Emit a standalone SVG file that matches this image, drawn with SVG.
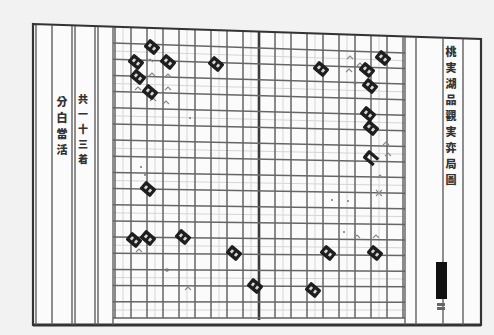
<svg xmlns="http://www.w3.org/2000/svg" xmlns:xlink="http://www.w3.org/1999/xlink" width="494" height="335" viewBox="0 0 494 335">
<style>
.frame{stroke:#333;fill:none;stroke-width:2.2}
.rule{stroke:#555;stroke-width:1.3;fill:none}
.g{stroke:#666;stroke-width:1.5;fill:none}
.f{stroke:#d6d6d6;stroke-width:1;fill:none}
.mk{stroke:#888;stroke-width:1.1;fill:none}
.dot{fill:#777}
.txt{font-family:"Noto Sans CJK TC","Noto Sans CJK SC",sans-serif;font-weight:900;fill:#333;text-anchor:middle}
</style>
<defs>
<g id="st"><rect x="-7" y="-5.2" width="14" height="10.4" rx="1.6" fill="#1e1e1e"/><rect x="-4" y="-1.7" width="2.7" height="3.4" fill="#d8d8d8"/><rect x="1.3" y="-1.7" width="2.7" height="3.4" fill="#d8d8d8"/></g>
<g id="st2"><path d="M6.5,-5.2 H-5.4 Q-7,-5.2 -7,-3.6 V3.6 Q-7,5.2 -5.4,5.2 H6.5 V1.9 H-3.6 V-1.9 H6.5 Z" fill="#1e1e1e"/></g>
</defs>
<rect width="494" height="335" fill="#f2f2f2"/>
<polygon points="33,24 481,39 481,325 33,325" fill="#fbfbfb"/>
<g id="faint-grid">
<path class="f" d="M123,27 V318 M155,28 V318 M187,29 V318 M219,30 V318 M251,31 V318 M283,32 V318 M315,33 V318 M347,34 V318 M379,35 V318"/>
<path class="f" d="M113,51 L405,60.7 M113,83.5 L405,91.9 M113,115.8 L405,123 M113,148.2 L405,154.2 M113,180.5 L405,185.4 M113,212.8 L405,216.6 M113,245.2 L405,247.8 M113,277.5 L405,279 M113,310 L405,310"/>
</g>
<g id="grid">
<path class="g" d="M115,26.9 V318 M131,27.5 V318 M147,28.1 V318 M163,28.6 V318 M179,29.2 V318 M195,29.8 V318 M211,30.4 V318 M227,30.9 V318 M243,31.5 V318 M275,32.6 V318 M291,33.2 V318 M307,33.8 V318 M323,34.4 V318 M339,34.9 V318 M355,35.5 V318 M371,36.1 V318 M387,36.6 V318 M403,37.2 V318"/>
<path class="g" style="stroke-width:2.6;stroke:#3a3a3a" d="M259,32.1 V320"/>
<path class="g" d="M113,43.1 L405,52.9 M113,59.2 L405,68.5 M113,75.4 L405,84.1 M113,91.6 L405,99.7 M113,107.8 L405,115.3 M113,123.9 L405,130.8 M113,140.1 L405,146.4 M113,156.3 L405,162 M113,172.4 L405,177.6 M113,188.6 L405,193.2 M113,204.8 L405,208.8 M113,220.9 L405,224.4 M113,237.1 L405,240 M113,253.3 L405,255.6 M113,269.5 L405,271.2 M113,285.6 L405,286.7 M113,301.8 L405,302.3 M113,318 L405,318"/>
</g>
<g id="frame">
<path class="frame" d="M33,24 L481,39 V325 H33 Z"/>
<path class="frame" style="stroke-width:3.2" d="M33,325 H481"/>
<path class="rule" d="M36,25 V325 M52,25 V325 M72,26 V325 M75,26 V325 M95,27 V325 M98,27 V325 M113,27 V325 M405,37 V325 M416,38 V325 M443,38 V325 M463,39 V325"/>
</g>
<g id="left-text" class="txt">
<text font-size="11"><tspan x="62" y="106">分</tspan><tspan x="62" y="122">白</tspan><tspan x="62" y="138">當</tspan><tspan x="62" y="154">活</tspan></text>
<text font-size="10"><tspan x="83" y="103">共</tspan><tspan x="83" y="118">一</tspan><tspan x="83" y="133">十</tspan><tspan x="83" y="148">三</tspan><tspan x="83" y="163">着</tspan></text>
</g>
<g id="title" class="txt">
<text font-size="11"><tspan x="451" y="56">桃</tspan><tspan x="451" y="72">実</tspan><tspan x="451" y="88">湖</tspan><tspan x="451" y="104">品</tspan><tspan x="451" y="120">觀</tspan><tspan x="451" y="136">実</tspan><tspan x="451" y="152">弈</tspan><tspan x="451" y="168">局</tspan><tspan x="451" y="184">圖</tspan></text>
</g>
<g id="seal">
<rect x="436" y="262" width="11" height="37" fill="#111"/>
<rect x="437" y="303" width="8" height="3" fill="#666"/><rect x="437" y="307" width="8" height="3" fill="#666"/>
</g>
<g id="marks">
<path class="mk" d="M147,62 l3,-3 l3,3 M149,76 l3,-3 l3,3 M165,77 l3,-3 l3,3 M165,90 l3,-3 l3,3 M163,104 l3,-3 l3,3 M150,101 l3,-3 l3,3 M135,90 l3,-3 l3,3 M347,59 l3,-3 l3,3 M357,66 l3,-3 l3,3 M346,72 l3,-3 l3,3 M383,145 l3,-3 l3,3 M385,156 l3,-3 l3,3 M377,178 l3,-3 l3,3 M376,190 l6,6 M382,190 l-6,6 M354,238 l3,-3 l3,3 M373,238 l3,-3 l3,3 M136,252 l3,-3 l3,3 M185,290 l3,-3 l3,3"/>
<circle class="dot" cx="355" cy="83" r="1.6"/>
<circle class="dot" cx="167" cy="270" r="1.8"/>
<circle class="dot" cx="190" cy="118" r="1"/>
<circle class="dot" cx="291" cy="70" r="1"/>
<circle class="dot" cx="332" cy="200" r="1"/>
<circle class="dot" cx="348" cy="201" r="1"/>
<circle class="dot" cx="141" cy="167" r="1"/>
<circle class="dot" cx="145" cy="175" r="1"/>
<circle class="dot" cx="344" cy="232" r="1"/>
</g>
<g id="stones">
<use xlink:href="#st" transform="translate(152,47) rotate(40)"/>
<use xlink:href="#st" transform="translate(136,62) rotate(40)"/>
<use xlink:href="#st" transform="translate(168,62) rotate(40)"/>
<use xlink:href="#st" transform="translate(138,77) rotate(40)"/>
<use xlink:href="#st" transform="translate(150,92) rotate(40)"/>
<use xlink:href="#st" transform="translate(216,64) rotate(40)"/>
<use xlink:href="#st" transform="translate(321,69) rotate(40)"/>
<use xlink:href="#st" transform="translate(383,58) rotate(40)"/>
<use xlink:href="#st" transform="translate(367,70) rotate(40)"/>
<use xlink:href="#st" transform="translate(370,86) rotate(40)"/>
<use xlink:href="#st" transform="translate(368,114) rotate(40)"/>
<use xlink:href="#st" transform="translate(371,128) rotate(40)"/>
<use xlink:href="#st2" transform="translate(371,158) rotate(40)"/>
<use xlink:href="#st" transform="translate(148,189) rotate(40)"/>
<use xlink:href="#st" transform="translate(134,240) rotate(40)"/>
<use xlink:href="#st" transform="translate(148,238) rotate(40)"/>
<use xlink:href="#st" transform="translate(183,237) rotate(40)"/>
<use xlink:href="#st" transform="translate(234,253) rotate(40)"/>
<use xlink:href="#st" transform="translate(328,253) rotate(40)"/>
<use xlink:href="#st" transform="translate(375,253) rotate(40)"/>
<use xlink:href="#st" transform="translate(255,286) rotate(40)"/>
<use xlink:href="#st" transform="translate(313,290) rotate(40)"/>
</g>
</svg>
